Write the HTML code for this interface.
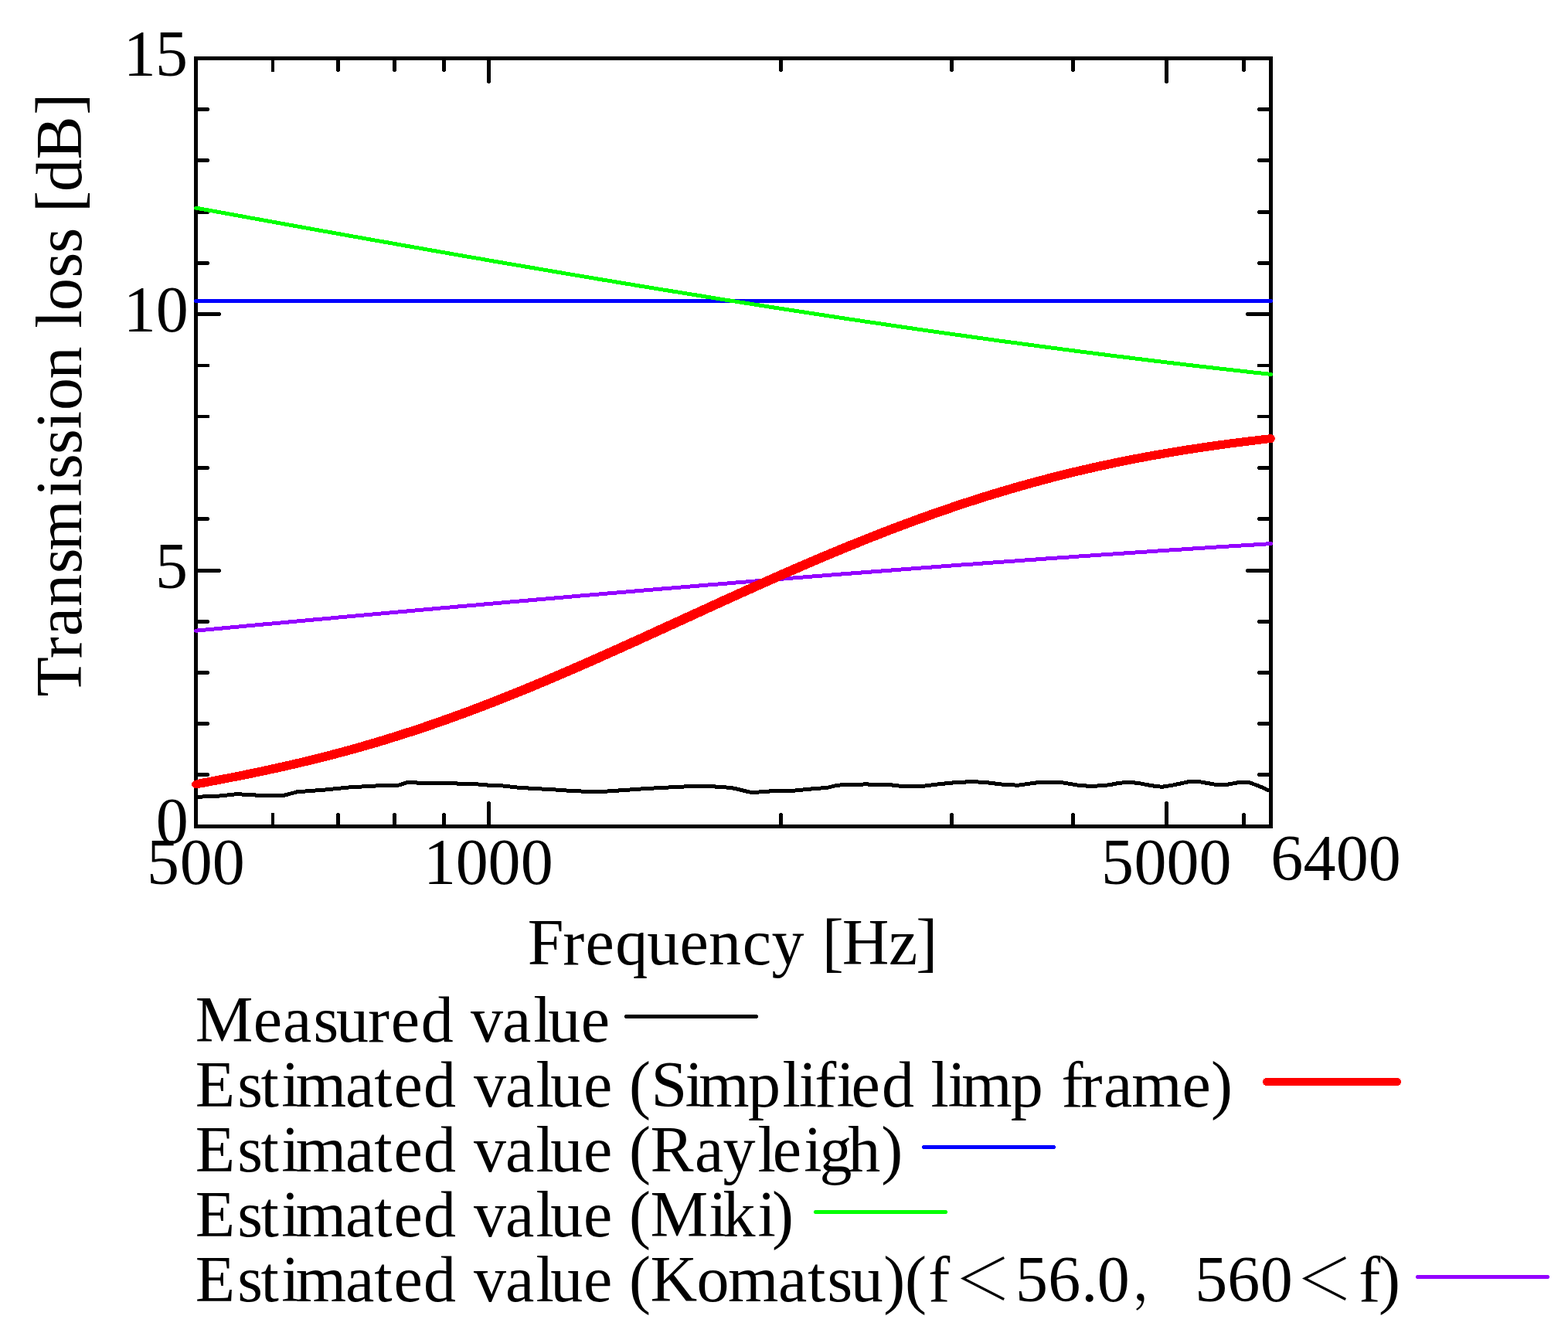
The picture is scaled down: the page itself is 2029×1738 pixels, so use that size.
<!DOCTYPE html>
<html lang="en">
<head>
<meta charset="utf-8">
<title>Transmission loss vs frequency</title>
<style>
html,body{margin:0;padding:0;background:#fff}
body{width:2029px;height:1738px;overflow:hidden}
svg{display:block}
text{font-family:"Liberation Serif","Noto Serif CJK SC",serif;font-size:84px;fill:#000;font-kerning:none;font-variant-ligatures:none;white-space:pre}
.ax{stroke:#000;stroke-width:5;fill:none;stroke-linecap:round}
.c{fill:none;stroke-linecap:round;stroke-linejoin:round}
.fw{font-family:"Noto Serif CJK SC","Liberation Serif",serif}
</style>
</head>
<body>
<svg width="2029" height="1738" viewBox="0 0 2029 1738">
<rect x="0" y="0" width="2029" height="1738" fill="#fff"/>
<g shape-rendering="crispEdges">
<rect class="ax" x="253.5" y="75.5" width="1391.0" height="994.0" stroke-linejoin="miter"/>
<g fill="#000" stroke="none">
<path d="M256 139H270v1h1v3h-1v1H256z M1642 139H1628v1h-1v3h1v1H1642z"/>
<path d="M256 205H270v1h1v3h-1v1H256z M1642 205H1628v1h-1v3h1v1H1642z"/>
<path d="M256 272H270v1h1v3h-1v1H256z M1642 272H1628v1h-1v3h1v1H1642z"/>
<path d="M256 338H270v1h1v3h-1v1H256z M1642 338H1628v1h-1v3h1v1H1642z"/>
<path d="M256 404H285v1h1v3h-1v1H256z M1642 404H1613v1h-1v3h1v1H1642z"/>
<path d="M256 471H271v4H256z M1642 471H1627v4H1642z"/>
<path d="M256 537H271v4H256z M1642 537H1627v4H1642z"/>
<path d="M256 603H270v1h1v3h-1v1H256z M1642 603H1628v1h-1v3h1v1H1642z"/>
<path d="M256 669H270v1h1v3h-1v1H256z M1642 669H1628v1h-1v3h1v1H1642z"/>
<path d="M256 736H285v1h1v3h-1v1H256z M1642 736H1613v1h-1v3h1v1H1642z"/>
<path d="M256 802H270v1h1v3h-1v1H256z M1642 802H1628v1h-1v3h1v1H1642z"/>
<path d="M256 868H270v1h1v3h-1v1H256z M1642 868H1628v1h-1v3h1v1H1642z"/>
<path d="M256 934H270v1h1v3h-1v1H256z M1642 934H1628v1h-1v3h1v1H1642z"/>
<path d="M256 1000H270v1h1v3h-1v1H256z M1642 1000H1628v1h-1v3h1v1H1642z"/>
<path d="M351 1067V1052h4V1067z M351 78V93h4V78z"/>
<path d="M435 1067V1053h1v-1h3v1h1V1067z M435 78V92h1v1h3v-1h1V78z"/>
<path d="M508 1067V1053h1v-1h3v1h1V1067z M508 78V92h1v1h3v-1h1V78z"/>
<path d="M572 1067V1053h1v-1h3v1h1V1067z M572 78V92h1v1h3v-1h1V78z"/>
<path d="M630 1067V1038h1v-1h3v1h1V1067z M630 78V107h1v1h3v-1h1V78z"/>
<path d="M1008 1067V1053h1v-1h3v1h1V1067z M1008 78V92h1v1h3v-1h1V78z"/>
<path d="M1229 1067V1053h1v-1h3v1h1V1067z M1229 78V92h1v1h3v-1h1V78z"/>
<path d="M1386 1067V1053h1v-1h3v1h1V1067z M1386 78V92h1v1h3v-1h1V78z"/>
<path d="M1507 1067V1038h1v-1h3v1h1V1067z M1507 78V107h1v1h3v-1h1V78z"/>
<path d="M1607 1067V1053h1v-1h3v1h1V1067z M1607 78V92h1v1h3v-1h1V78z"/>
</g>
<polyline class="c" stroke="#000" stroke-width="5" points="253.5,1031.4 284.5,1030 306.9,1027.6 322.4,1028.6 336.2,1029.3 367.2,1029.3 384.5,1024.8 422.4,1021.9 453.4,1018.8 491.4,1016.7 515.5,1016.2 527.6,1012.4 536.2,1012.4 541.4,1013.4 584.5,1013.6 600,1014.5 613.8,1014.5 627.6,1015.9 648.3,1016.7 669,1019 686.3,1020.2 717.3,1021.9 734.6,1023.1 755.3,1024.2 782.9,1024.2 803.6,1022.8 832.9,1020.7 869.1,1018.8 893.3,1017.6 919.1,1017.6 938.1,1018.8 950,1020.2 960.4,1022.8 970.7,1025.2 979.3,1025.2 998.3,1023.8 1024.2,1023.5 1048.3,1021.1 1070.8,1019.3 1081.1,1016.7 1091.5,1015.5 1115.6,1015.2 1120.8,1014.5 1126,1015.5 1150.1,1015.5 1165.6,1017.3 1195,1017.3 1215.7,1014.7 1234.6,1012.8 1257.1,1011.6 1274.3,1012.4 1300,1015.5 1317.3,1016.2 1344.9,1012.4 1372.5,1012.4 1393.2,1015.9 1412.1,1017.6 1434.6,1015.9 1448.4,1013.3 1460.4,1012.4 1472.5,1013.3 1489.8,1016.7 1503.6,1018.3 1517.4,1016.2 1538.1,1011.6 1551.9,1011.6 1570.8,1015 1589.8,1015 1603.6,1012.4 1615.7,1012.4 1627.8,1016.7 1644.5,1024"/>
<line class="c" stroke="#0000ff" stroke-width="5" x1="253.5" y1="389.5" x2="1644.5" y2="389.5"/>
<polyline class="c" stroke="#00ff00" stroke-width="5" points="253.5,269.1 265.2,271.2 276.9,273.3 288.6,275.5 300.3,277.6 311.9,279.7 323.6,281.9 335.3,284 347,286.1 358.7,288.2 370.4,290.4 382.1,292.5 393.8,294.6 405.5,296.7 417.1,298.8 428.8,300.9 440.5,303 452.2,305.1 463.9,307.2 475.6,309.3 487.3,311.4 499,313.4 510.7,315.5 522.3,317.6 534,319.6 545.7,321.7 557.4,323.8 569.1,325.8 580.8,327.9 592.5,329.9 604.2,332 615.9,334 627.6,336 639.2,338.1 650.9,340.1 662.6,342.1 674.3,344.1 686,346.1 697.7,348.1 709.4,350.1 721.1,352.1 732.8,354.1 744.4,356.1 756.1,358 767.8,360 779.5,362 791.2,363.9 802.9,365.9 814.6,367.8 826.3,369.8 838,371.7 849.6,373.6 861.3,375.5 873,377.4 884.7,379.3 896.4,381.2 908.1,383.1 919.8,385 931.5,386.9 943.2,388.8 954.8,390.6 966.5,392.5 978.2,394.3 989.9,396.2 1001.6,398 1013.3,399.8 1025,401.6 1036.7,403.4 1048.4,405.2 1060,407 1071.7,408.8 1083.4,410.6 1095.1,412.4 1106.8,414.1 1118.5,415.9 1130.2,417.6 1141.9,419.3 1153.6,421.1 1165.2,422.8 1176.9,424.5 1188.6,426.2 1200.3,427.9 1212,429.6 1223.7,431.2 1235.4,432.9 1247.1,434.5 1258.8,436.2 1270.4,437.8 1282.1,439.4 1293.8,441.1 1305.5,442.7 1317.2,444.2 1328.9,445.8 1340.6,447.4 1352.3,449 1364,450.5 1375.7,452.1 1387.3,453.6 1399,455.1 1410.7,456.6 1422.4,458.1 1434.1,459.6 1445.8,461.1 1457.5,462.5 1469.2,464 1480.9,465.4 1492.5,466.9 1504.2,468.3 1515.9,469.7 1527.6,471.1 1539.3,472.5 1551,473.9 1562.7,475.2 1574.4,476.6 1586.1,477.9 1597.7,479.2 1609.4,480.5 1621.1,481.9 1632.8,483.1 1644.5,484.4"/>
<polyline class="c" stroke="#9400ff" stroke-width="5" points="253.5,816.2 265.2,815.1 276.9,814 288.6,812.9 300.3,811.8 311.9,810.7 323.6,809.6 335.3,808.5 347,807.4 358.7,806.4 370.4,805.3 382.1,804.2 393.8,803.1 405.5,802 417.1,801 428.8,799.9 440.5,798.8 452.2,797.7 463.9,796.7 475.6,795.6 487.3,794.5 499,793.5 510.7,792.4 522.3,791.4 534,790.3 545.7,789.2 557.4,788.2 569.1,787.1 580.8,786.1 592.5,785 604.2,784 615.9,783 627.6,781.9 639.2,780.9 650.9,779.8 662.6,778.8 674.3,777.8 686,776.8 697.7,775.7 709.4,774.7 721.1,773.7 732.8,772.7 744.4,771.6 756.1,770.6 767.8,769.6 779.5,768.6 791.2,767.6 802.9,766.6 814.6,765.6 826.3,764.6 838,763.6 849.6,762.6 861.3,761.6 873,760.7 884.7,759.7 896.4,758.7 908.1,757.7 919.8,756.7 931.5,755.8 943.2,754.8 954.8,753.8 966.5,752.9 978.2,751.9 989.9,751 1001.6,750 1013.3,749.1 1025,748.1 1036.7,747.2 1048.4,746.2 1060,745.3 1071.7,744.4 1083.4,743.4 1095.1,742.5 1106.8,741.6 1118.5,740.7 1130.2,739.8 1141.9,738.9 1153.6,738 1165.2,737.1 1176.9,736.2 1188.6,735.3 1200.3,734.4 1212,733.5 1223.7,732.6 1235.4,731.7 1247.1,730.8 1258.8,730 1270.4,729.1 1282.1,728.2 1293.8,727.4 1305.5,726.5 1317.2,725.7 1328.9,724.8 1340.6,724 1352.3,723.1 1364,722.3 1375.7,721.5 1387.3,720.7 1399,719.8 1410.7,719 1422.4,718.2 1434.1,717.4 1445.8,716.6 1457.5,715.8 1469.2,715 1480.9,714.2 1492.5,713.4 1504.2,712.6 1515.9,711.8 1527.6,711.1 1539.3,710.3 1551,709.5 1562.7,708.8 1574.4,708 1586.1,707.3 1597.7,706.5 1609.4,705.8 1621.1,705.1 1632.8,704.3 1644.5,703.6"/>
<polygon fill="#ff0000" points="253.5,1009.1 267.6,1006.5 281.6,1003.8 295.7,1001.1 309.7,998.3 323.8,995.4 337.8,992.5 351.9,989.4 365.9,986.3 380,983.1 394,979.7 408.1,976.3 422.1,972.7 436.2,969 450.2,965.2 464.3,961.2 478.3,957.1 492.4,952.9 506.4,948.6 520.5,944.1 534.5,939.6 548.6,934.8 562.6,930 576.7,925 590.7,920 604.8,914.8 618.8,909.4 632.9,904 646.9,898.5 661,892.9 675,887.2 689.1,881.3 703.1,875.5 717.2,869.5 731.2,863.4 745.3,857.3 759.3,851.1 773.4,844.9 787.4,838.6 801.5,832.3 815.5,825.9 829.6,819.6 843.6,813.1 857.7,806.7 871.7,800.3 885.8,793.8 899.8,787.4 913.9,781 927.9,774.5 942,768.1 956,761.8 970.1,755.4 984.1,749.2 998.2,742.9 1012.2,736.7 1026.3,730.6 1040.3,724.5 1054.4,718.5 1068.4,712.6 1082.5,706.7 1096.5,700.9 1110.6,695.3 1124.6,689.7 1138.7,684.2 1152.7,678.8 1166.8,673.5 1180.8,668.3 1194.9,663.2 1208.9,658.2 1223,653.4 1237,648.6 1251.1,644 1265.1,639.5 1279.2,635.1 1293.2,630.9 1307.3,626.7 1321.3,622.7 1335.4,618.8 1349.4,615.1 1363.5,611.4 1377.5,607.9 1391.6,604.5 1405.6,601.3 1419.7,598.1 1433.7,595.1 1447.8,592.2 1461.8,589.4 1475.9,586.7 1489.9,584.1 1504,581.7 1518,579.3 1532.1,577 1546.1,574.9 1560.2,572.8 1574.2,570.8 1588.3,568.9 1602.3,567.1 1616.4,565.4 1630.4,563.7 1644.5,562.1 1644.5,573 1630.4,574.7 1616.4,576.4 1602.3,578.2 1588.3,580 1574.2,582 1560.2,584 1546.1,586.1 1532.1,588.3 1518,590.6 1504,593.1 1489.9,595.6 1475.9,598.2 1461.8,601 1447.8,603.8 1433.7,606.8 1419.7,609.9 1405.6,613.1 1391.6,616.4 1377.5,619.9 1363.5,623.5 1349.4,627.2 1335.4,631 1321.3,635 1307.3,639.1 1293.2,643.3 1279.2,647.6 1265.1,652 1251.1,656.6 1237,661.3 1223,666.1 1208.9,671 1194.9,676.1 1180.8,681.2 1166.8,686.5 1152.7,691.8 1138.7,697.3 1124.6,702.8 1110.6,708.5 1096.5,714.2 1082.5,720 1068.4,725.9 1054.4,731.9 1040.3,738 1026.3,744.1 1012.2,750.2 998.2,756.5 984.1,762.7 970.1,769.1 956,775.4 942,781.8 927.9,788.2 913.9,794.6 899.8,801.1 885.8,807.5 871.7,813.9 857.7,820.4 843.6,826.8 829.6,833.2 815.5,839.6 801.5,845.9 787.4,852.2 773.4,858.5 759.3,864.7 745.3,870.8 731.2,876.9 717.2,882.9 703.1,888.8 689.1,894.7 675,900.4 661,906.1 646.9,911.7 632.9,917.1 618.8,922.5 604.8,927.7 590.7,932.9 576.7,937.9 562.6,942.8 548.6,947.5 534.5,952.2 520.5,956.7 506.4,961.1 492.4,965.4 478.3,969.5 464.3,973.5 450.2,977.4 436.2,981.1 422.1,984.7 408.1,988.3 394,991.6 380,994.9 365.9,998.1 351.9,1001.2 337.8,1004.2 323.8,1007.1 309.7,1009.9 295.7,1012.6 281.6,1015.3 267.6,1018 253.5,1020.6"/>
<circle fill="#ff0000" cx="253.5" cy="1014.9" r="5.3"/><circle fill="#ff0000" cx="1644.5" cy="567.6" r="5.3"/>
<line class="c" stroke="#000" stroke-width="5" x1="810.5" y1="1315.5" x2="978.8" y2="1315.5"/>
<line class="c" stroke="#ff0000" stroke-width="10" x1="1639" y1="1400" x2="1808" y2="1400"/>
<line class="c" stroke="#0000ff" stroke-width="5" x1="1195.7" y1="1484.5" x2="1363.7" y2="1484.5"/>
<line class="c" stroke="#00ff00" stroke-width="5" x1="1055.4" y1="1568.5" x2="1223.2" y2="1568.5"/>
<line class="c" stroke="#9400ff" stroke-width="5" x1="1834.5" y1="1652.5" x2="2002.5" y2="1652.5"/>
</g>
<text x="159.8 201" y="98">15</text>
<text x="159.8 201.7" y="428.6">10</text>
<text x="201" y="761.2">5</text>
<text x="201.7" y="1091.3">0</text>
<text x="189.9 232.8 274.8" y="1144">500</text>
<text x="548 589.7 631.6 673.7" y="1144">1000</text>
<text x="1425 1467.6 1509.5 1551.6" y="1144">5000</text>
<text x="1644.3 1686.4 1728.8 1770.7" y="1139">6400</text>
<text x="682.7 728.3 757.5 796.2 837.3 879.4 917.1 960.8 998.4 1040.4 1063.8 1089.8 1150.1 1185.2" y="1247.8">Frequency [Hz]</text>
<text transform="translate(105,0) rotate(-90)" x="-901.6 -852.3 -823.3 -785.1 -742.2 -712.5 -642.5 -619.9 -587.9 -555.2 -531.1 -490.6 -448.6 -424.7 -402.1 -359.5 -327.6 -295 -275.1 -248.1 -206.5 -148.8" y="0">Transmission loss [dB]</text>
<text x="252.8 327.7 366 405.6 434.9 476 505.8 544.7 586.7 609.1 650 690.2 709.3 751.7" y="1347.8">Measured value</text>
<text x="252.8 307.2 337.5 364.3 382.8 446.9 484.3 509.6 548.1 590.1 613.1 653.9 693.6 712.3 754.9 792.2 814 842.5 886.6 904.3 968 1012.4 1033.7 1054.3 1082.5 1101.5 1141 1183 1204.4 1226.5 1244.2 1307.7 1349.7 1373.4 1398.6 1427.9 1464.3 1529.6 1566.9" y="1431.8">Estimated value (Simplified limp frame)</text>
<text x="252.8 307.2 337.5 364.3 382.8 446.9 484.3 509.6 548.1 590.1 613.1 653.9 693.6 712.3 754.9 792.2 814 841.6 899 935.4 980.6 999.7 1040.3 1060.4 1097.3 1140.2" y="1515.9">Estimated value (Rayleigh)</text>
<text x="252.8 307.2 337.5 364.3 382.8 446.9 484.3 509.6 548.1 590.1 613.1 653.9 693.6 712.3 754.9 792.2 814 841.6 917.3 935.6 980.5 999.1" y="1599.9">Estimated value (Miki)</text>
<text y="1684"><tspan x="252.8 307.2 337.5 364.3 382.8 446.9 484.3 509.6 548.1 590.1 613.1 653.9 693.6 712.3 754.9 792.2 814 841.6 901.4 942 1006.9 1045 1070.5 1100.7 1143.2 1170.9 1201.3">Estimated value (Komatsu)(f</tspan><tspan class="fw" font-size="75" x="1234" y="1681.9">＜</tspan><tspan x="1314 1356.3 1399.2 1419.7" y="1684">56.0</tspan><tspan class="fw" font-size="68" x="1465.1" y="1682">，</tspan><tspan x="1546.2 1588.2 1630.7" y="1684">560</tspan><tspan class="fw" font-size="75" x="1676" y="1681.9">＜</tspan><tspan x="1758.3 1784" y="1684">f)</tspan></text>
</svg>
</body>
</html>
